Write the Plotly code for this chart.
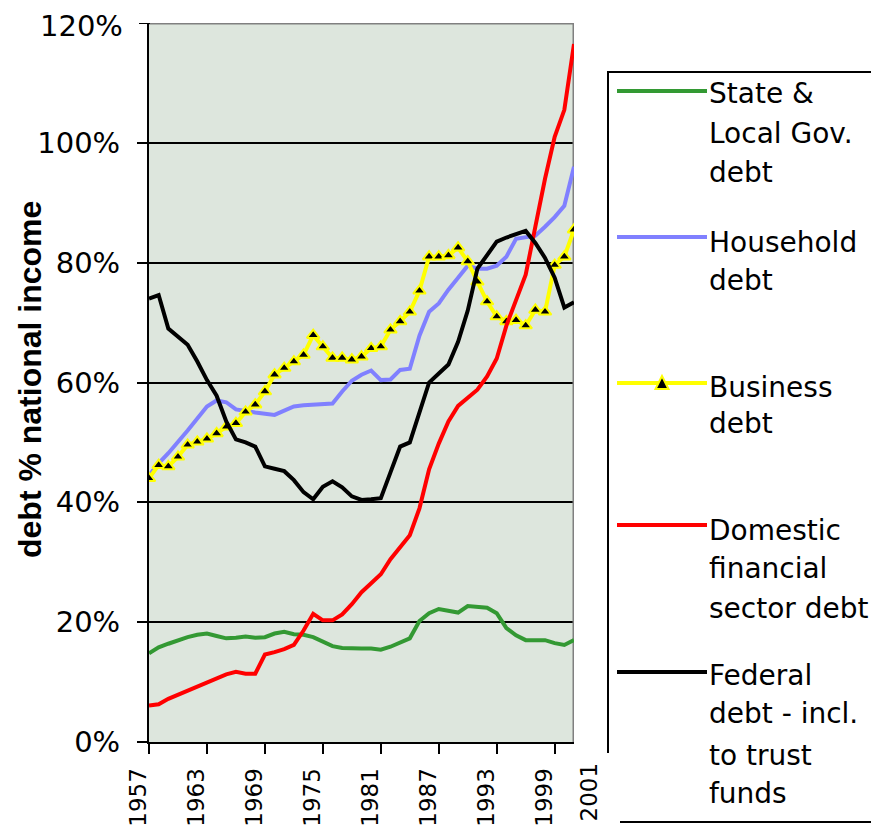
import plotly.graph_objects as go

years = list(range(1957, 2002))

state_local = [14.8, 15.8, 16.4, 17.0, 17.5, 17.9, 18.1, 17.7, 17.3, 17.4,
               17.6, 17.4, 17.5, 18.1, 18.4, 18.0, 17.9, 17.5, 16.8, 16.0,
               15.7, 15.6, 15.6, 15.6, 15.4, 15.9, 16.6, 17.3, 20.2, 21.5,
               22.2, 21.9, 21.6, 22.7, 22.6, 22.4, 21.5, 19.0, 17.8, 17.0,
               17.0, 17.0, 16.5, 16.2, 17.0]

household = [44.5, 46.5, 48.2, 50.0, 52.0, 54.0, 56.0, 57.0, 56.7, 55.5,
             55.2, 55.0, 54.8, 54.6, 55.3, 56.0, 56.2, 56.3, 56.3, 56.5,
             58.5, 60.3, 61.3, 62.0, 60.4, 60.5, 62.1, 62.3, 67.8, 71.8,
             73.2, 75.5, 77.5, 79.5, 79.0, 79.0, 79.5, 81.0, 84.0, 84.3,
             84.5, 86.0, 87.6, 89.5, 96.0]

business = [44.0, 46.2, 46.0, 47.6, 49.6, 50.1, 50.6, 51.5, 52.6, 53.2,
            55.1, 56.3, 58.5, 61.3, 62.4, 63.5, 64.6, 67.9, 66.0, 64.1,
            64.1, 63.8, 64.3, 65.7, 66.0, 68.8, 70.2, 71.8, 75.3, 81.0,
            81.0, 81.2, 82.5, 80.2, 76.8, 73.5, 71.0, 70.2, 70.4, 69.5,
            72.1, 71.8, 79.6, 81.0, 85.5]

financial = [6.1, 6.3, 7.2, 7.9, 8.5, 9.2, 9.9, 10.6, 11.3, 11.7,
             11.4, 11.4, 14.6, 15.0, 15.5, 16.2, 18.6, 21.4, 20.3, 20.3,
             21.3, 23.0, 25.0, 26.5, 28.0, 30.5, 32.5, 34.5, 39.0, 45.5,
             49.8, 53.5, 56.1, 57.4, 58.8, 61.0, 64.0, 69.5, 73.6, 78.0,
             86.0, 94.0, 101.0, 105.5, 116.5]

federal = [74.0, 74.6, 69.0, 67.7, 66.3, 63.5, 60.4, 57.8, 53.5, 50.5,
           50.0, 49.3, 46.0, 45.6, 45.2, 43.7, 41.7, 40.5, 42.6, 43.5,
           42.5, 41.0, 40.4, 40.5, 40.7, 45.0, 49.3, 50.0, 55.0, 60.0,
           61.5, 63.0, 66.8, 72.0, 79.0, 81.2, 83.5, 84.2, 84.7, 85.3,
           83.3, 80.8, 77.5, 72.5, 73.4]

x_tick_years = [1957, 1963, 1969, 1975, 1981, 1987, 1993, 1999]
last_year_label = "2001"
y_ticks = [0, 20, 40, 60, 80, 100]
y_top = 120

series_names = ["State & Local Gov. debt", "Household debt", "Business debt",
                "Domestic financial sector debt",
                "Federal debt - incl. to trust funds"]
legend_lines = [["State &", "Local Gov.", "debt"],
                ["Household", "debt"],
                ["Business", "debt"],
                ["Domestic", "financial", "sector debt"],
                ["Federal", "debt - incl.", "to trust", "funds"]]
colors = ["#339933", "#8080FF", "#FFFF00", "#FF0000", "#000000"]

# page body has an 8px default margin -> figure is drawn at (8, 8)
OFF = 8
W, H = 879 - OFF, 828 - OFF
ML, MT = 149 - OFF, 23 - OFF
PW, PH = 425, 719
MR = W - ML - PW
MB = H - MT - PH


def px_x(px):
    """window pixel x -> paper coordinate"""
    return (px - OFF - ML) / PW


def px_y(py):
    """window pixel y -> paper coordinate"""
    return (MT + PH - (py - OFF)) / PH


fig = go.Figure()
all_series = [state_local, household, business, financial, federal]
for name, vals, col in zip(series_names, all_series, colors):
    if name.startswith("Business"):
        fig.add_trace(go.Scatter(
            x=years, y=vals, name=name, mode="lines+markers",
            line=dict(color=col, width=4),
            marker=dict(symbol="triangle-up", size=11, color="black",
                        line=dict(color=col, width=2))))
    else:
        fig.add_trace(go.Scatter(
            x=years, y=vals, name=name, mode="lines",
            line=dict(color=col, width=4)))

shapes = [
    dict(type="line", xref="x", yref="y", x0=1957, x1=2001, y0=y_top, y1=y_top,
         line=dict(color="#808080", width=3), layer="between"),
    dict(type="line", xref="x", yref="y", x0=2001, x1=2001, y0=0, y1=y_top,
         line=dict(color="#808080", width=3), layer="between"),
    # tick mark for the top value
    dict(type="line", xref="paper", yref="y", x0=px_x(139), x1=px_x(150),
         y0=y_top, y1=y_top, line=dict(color="black", width=2)),
    # legend box
    dict(type="line", xref="paper", yref="paper", x0=px_x(608), x1=px_x(608),
         y0=px_y(72), y1=px_y(753), line=dict(color="black", width=2)),
    dict(type="line", xref="paper", yref="paper", x0=px_x(607), x1=px_x(890),
         y0=px_y(72), y1=px_y(72), line=dict(color="black", width=2)),
    dict(type="line", xref="paper", yref="paper", x0=px_x(620), x1=px_x(890),
         y0=px_y(822), y1=px_y(822), line=dict(color="black", width=2)),
]

sample_y = [91, 237, 383, 525, 672]
for col, sy in zip(colors, sample_y):
    shapes.append(dict(type="line", xref="paper", yref="paper",
                       x0=px_x(617), x1=px_x(707), y0=px_y(sy), y1=px_y(sy),
                       line=dict(color=col, width=4)))
tri = "M {},{} L {},{} L {},{} Z".format(
    px_x(662), px_y(376), px_x(655.5), px_y(389), px_x(668.5), px_y(389))
shapes.append(dict(type="path", xref="paper", yref="paper", path=tri,
                   fillcolor="black", line=dict(color="#FFFF00", width=2)))

annotations = []
baselines = [[103, 143, 182], [252, 290], [397, 433], [540, 578, 618],
             [685, 723, 765, 803]]
for lines, bls in zip(legend_lines, baselines):
    for txt, bl in zip(lines, bls):
        annotations.append(dict(
            text=txt, xref="paper", yref="paper", x=px_x(707), y=px_y(bl - 10),
            xanchor="left", yanchor="middle", showarrow=False,
            font=dict(family="DejaVu Sans", size=28, color="black")))

annotations.append(dict(
    text="debt % national income", xref="paper", yref="paper",
    x=px_x(30), y=px_y(380), xanchor="center", yanchor="middle",
    textangle=-90, showarrow=False,
    font=dict(family="Liberation Sans", size=32, color="black", weight="bold")))

annotations.append(dict(
    text=last_year_label, xref="paper", yref="paper",
    x=px_x(588), y=px_y(761), xanchor="center", yanchor="top",
    textangle=-90, showarrow=False,
    font=dict(family="DejaVu Sans", size=23, color="black")))

# label for the top y tick (120%)
annotations.append(dict(
    text="{}%".format(y_top), xref="paper", yref="paper",
    x=px_x(124), y=px_y(26), xanchor="right", yanchor="middle",
    showarrow=False, borderpad=0,
    font=dict(family="DejaVu Sans", size=29, color="black")))

fig.update_layout(
    width=W, height=H,
    margin=dict(l=ML, r=MR, t=MT, b=MB, pad=0, autoexpand=False),
    paper_bgcolor="white", plot_bgcolor="#DDE6DD",
    showlegend=False,
    shapes=shapes, annotations=annotations,
    xaxis=dict(range=[1957, 2001], tickmode="array", tickvals=x_tick_years,
               ticktext=[str(y) for y in x_tick_years], tickangle=-90,
               ticks="outside", ticklen=10, tickwidth=2, tickcolor="black",
               showline=True, linecolor="black", linewidth=2,
               showgrid=False, zeroline=False, automargin=False,
               tickfont=dict(family="DejaVu Sans", size=23, color="black"),
               ticklabelshift=-10, ticklabelstandoff=5),
    yaxis=dict(range=[0, y_top], tickmode="array", tickvals=y_ticks,
               ticktext=["{}%".format(v) for v in y_ticks],
               ticks="outside", ticklen=10, tickwidth=2, tickcolor="black",
               showline=True, linecolor="black", linewidth=2,
               showgrid=True, gridcolor="black", gridwidth=2,
               zeroline=False, automargin=False,
               tickfont=dict(family="DejaVu Sans", size=29, color="black"),
               ticklabelstandoff=11),
)

fig.write_html("out.html")
